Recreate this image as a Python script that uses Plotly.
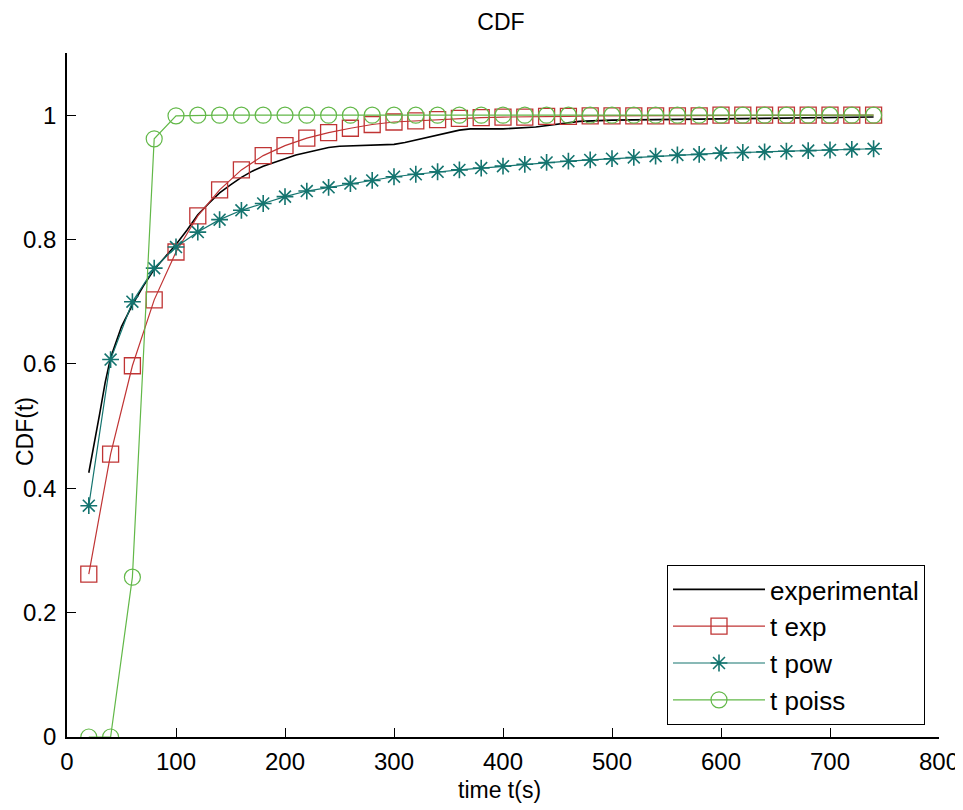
import plotly.graph_objects as go

# ---- data ----
time_s = [20, 40, 60, 80, 100, 120, 140, 160, 180, 200, 220, 240, 260, 280, 300,
          320, 340, 360, 380, 400, 420, 440, 460, 480, 500, 520, 540, 560, 580,
          600, 620, 640, 660, 680, 700, 720, 740]

t_exp = [0.262, 0.455, 0.597, 0.703, 0.780, 0.838, 0.880, 0.912, 0.935, 0.951,
         0.963, 0.972, 0.979, 0.985, 0.989, 0.991, 0.993, 0.995, 0.996, 0.997,
         0.997, 0.998, 0.998, 0.999, 0.999, 0.999, 0.999, 0.999, 0.999, 1.0,
         1.0, 1.0, 1.0, 1.0, 1.0, 1.0, 1.0]

t_pow = [0.372, 0.607, 0.700, 0.754, 0.788, 0.812, 0.832, 0.847, 0.858, 0.869,
         0.878, 0.884, 0.890, 0.895, 0.901, 0.905, 0.909, 0.912, 0.915, 0.918,
         0.921, 0.924, 0.926, 0.928, 0.930, 0.932, 0.934, 0.936, 0.937, 0.939,
         0.940, 0.941, 0.942, 0.943, 0.944, 0.945, 0.946]

t_poiss = [0.0, 0.0, 0.257, 0.962, 0.999, 1.0, 1.0, 1.0, 1.0, 1.0,
           1.0, 1.0, 1.0, 1.0, 1.0, 1.0, 1.0, 1.0, 1.0, 1.0,
           1.0, 1.0, 1.0, 1.0, 1.0, 1.0, 1.0, 1.0, 1.0, 1.0,
           1.0, 1.0, 1.0, 1.0, 1.0, 1.0, 1.0]

exp_time = [20, 25, 30, 35, 40, 50, 60, 70, 80, 90, 100, 110, 120, 130, 140, 150,
            160, 170, 180, 190, 200, 210, 220, 230, 240, 250, 270, 300, 310, 320,
            330, 340, 350, 360, 370, 400, 430, 450, 470, 500, 550, 600, 650, 700, 740]
exp_cdf = [0.425, 0.470, 0.520, 0.570, 0.610, 0.660, 0.695, 0.725, 0.752, 0.772,
           0.792, 0.815, 0.840, 0.858, 0.875, 0.888, 0.900, 0.910, 0.918, 0.924,
           0.930, 0.936, 0.940, 0.944, 0.948, 0.950, 0.951, 0.953, 0.956, 0.960,
           0.964, 0.968, 0.973, 0.976, 0.978, 0.978, 0.981, 0.985, 0.990, 0.992,
           0.993, 0.994, 0.995, 0.996, 0.997]

x_ticks = [0, 100, 200, 300, 400, 500, 600, 700, 800]
y_ticks = [0, 0.2, 0.4, 0.6, 0.8, 1]
y_tick_text = ["0", "0.2", "0.4", "0.6", "0.8", "1"]

FONT = "Liberation Sans, Arial, sans-serif"
RED = "#c03434"
TEAL = "#14746f"
GREEN = "#62b848"

# page body has an 8px default margin -> figure is laid out 8px up/left
W, H = 955, 802
L, R, T, B = 59, 24, 45, 73
PW, PH = W - L - R, H - T - B

fig = go.Figure()
fig.add_trace(go.Scatter(x=exp_time, y=exp_cdf, mode="lines", name="experimental",
                         line=dict(color="black", width=1.6)))
fig.add_trace(go.Scatter(x=time_s, y=t_exp, mode="lines+markers", name="t exp",
                         line=dict(color=RED, width=1.2),
                         marker=dict(symbol="square-open", size=16, color=RED,
                                     line=dict(width=1.3, color=RED))))
fig.add_trace(go.Scatter(x=time_s, y=t_pow, mode="lines+markers", name="t pow",
                         line=dict(color=TEAL, width=1.2),
                         marker=dict(symbol="asterisk-open", size=14, color=TEAL,
                                     line=dict(width=1.6, color=TEAL))))
fig.add_trace(go.Scatter(x=time_s, y=t_poiss, mode="lines+markers", name="t poiss",
                         line=dict(color=GREEN, width=1.2),
                         marker=dict(symbol="circle-open", size=16, color=GREEN,
                                     line=dict(width=1.2, color=GREEN))))

fig.update_layout(
    width=W, height=H,
    margin=dict(l=L, r=R, t=T, b=B, autoexpand=False),
    paper_bgcolor="white", plot_bgcolor="white",
    font=dict(family=FONT, size=23, color="black"),
    title=dict(text="CDF", x=493 / W, xanchor="center", y=1 - 14 / H,
               yanchor="middle", font=dict(family=FONT, size=23, color="black")),
    showlegend=True,
    legend=dict(x=(917 - L) / PW, y=(729 - 717) / PH, xanchor="right", yanchor="bottom",
                bgcolor="white", bordercolor="black", borderwidth=1,
                font=dict(family=FONT, size=26, color="black"),
                tracegroupgap=0, itemwidth=92),
    xaxis=dict(range=[0, 800], tickvals=x_ticks, ticks="inside", ticklen=9,
               tickcolor="black", tickwidth=1.2, showline=True, linecolor="black",
               linewidth=1.5, showgrid=False, zeroline=False, mirror=False,
               tickfont=dict(family=FONT, size=24, color="black"),
               ticklabelstandoff=2, ticklabeloverflow="allow"),
    yaxis=dict(range=[0, 1.1], tickvals=y_ticks, ticktext=y_tick_text,
               ticks="inside", ticklen=9, tickcolor="black", tickwidth=1.2,
               showline=True, linecolor="black", linewidth=1.5, showgrid=False,
               zeroline=False, mirror=False,
               tickfont=dict(family=FONT, size=24, color="black"),
               ticklabelstandoff=4),
    annotations=[
        dict(text="time t(s)", xref="paper", yref="paper", x=(491 - L) / PW,
             y=(729 - 782) / PH, xanchor="center", yanchor="middle",
             showarrow=False, font=dict(family=FONT, size=23, color="black")),
        dict(text="CDF(t)", xref="paper", yref="paper", x=(17 - L) / PW,
             y=(729 - 424) / PH, xanchor="center", yanchor="middle",
             textangle=-90, showarrow=False,
             font=dict(family=FONT, size=23, color="black")),
    ],
)

fig.write_html("out.html")
